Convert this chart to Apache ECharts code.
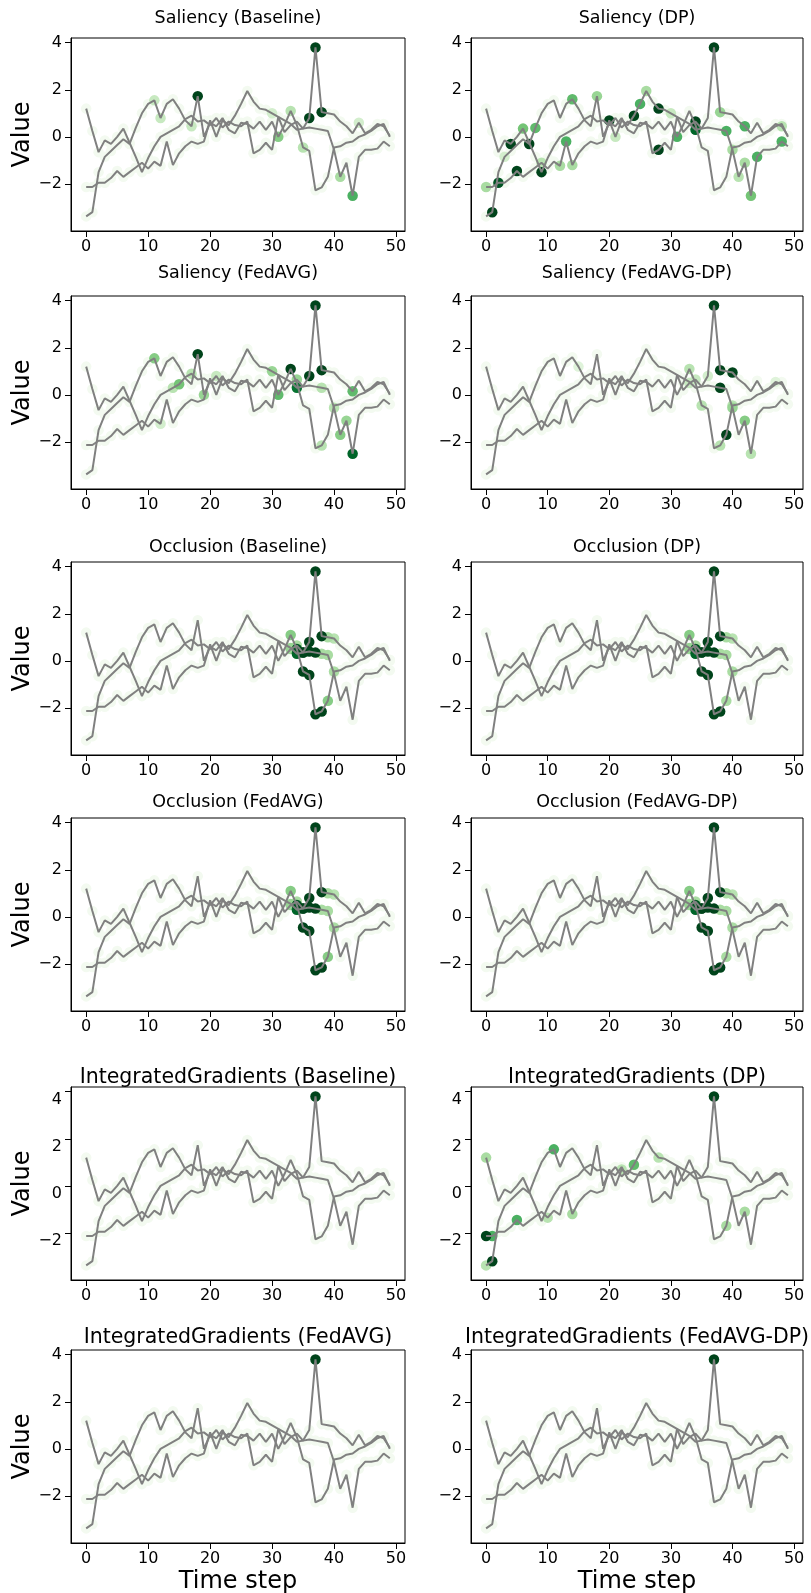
<!DOCTYPE html>
<html>
<head>
<meta charset="utf-8">
<script src="https://cdn.jsdelivr.net/npm/echarts@6/dist/echarts.min.js"></script>
<style>
  html, body { margin: 0; padding: 0; background: #fff; }
  #chart { width: 811px; height: 1593px; }
</style>
</head>
<body>
<div id="chart"></div>
<script>
// Three input time series (50 steps each)
const timeSteps = [0,1,2,3,4,5,6,7,8,9,10,11,12,13,14,15,16,17,18,19,20,21,22,23,24,25,26,27,28,29,30,31,32,33,34,35,36,37,38,39,40,41,42,43,44,45,46,47,48,49];
const seriesA = [1.2,0.25,-0.65,-0.15,-0.3,0.0,0.35,-0.25,-0.85,-1.5,
                 -0.9,-0.4,0.0,0.15,0.3,0.45,0.75,0.9,0.65,0.7,
                 0.5,0.8,0.4,0.65,0.5,0.45,0.65,-0.7,-0.55,-0.25,
                 -0.55,0.85,0.2,0.5,0.65,0.35,0.4,0.35,0.3,0.25,
                 -0.55,-1.7,-1.1,-2.5,-0.85,-0.55,-0.55,-0.5,-0.2,-0.4];
const seriesB = [-2.13,-2.13,-1.95,-1.95,-1.75,-1.45,-1.7,-1.5,-1.3,-1.1,
                 -1.35,-1.05,-1.23,-0.2,-1.2,-0.7,-0.4,-0.2,-0.3,-0.2,
                 0.7,0.0,0.7,0.5,0.9,1.4,1.95,1.5,1.2,1.15,
                 1.0,0.85,0.7,0.55,0.3,0.35,0.8,3.8,1.05,1.0,
                 0.95,0.65,0.45,0.15,0.6,0.15,0.3,0.55,0.45,0.05];
const seriesC = [-3.38,-3.2,-1.5,-0.85,-0.6,-0.35,-0.1,-0.3,0.38,1.0,
                 1.4,1.55,0.8,1.4,1.6,1.2,0.7,0.45,1.73,0.0,
                 0.6,0.45,0.8,0.3,0.15,0.6,0.55,0.35,0.65,0.3,
                 0.65,0.0,0.5,1.1,0.5,-0.45,-0.6,-2.27,-2.15,-1.7,
                 -0.45,-0.4,-0.25,-0.2,0.0,0.1,0.25,0.45,0.55,0.0];

const xTicks = [0,10,20,30,40,50];
const yTicks = [-2,0,2,4];

const panelTitles = [
  'Saliency (Baseline)', 'Saliency (DP)',
  'Saliency (FedAVG)', 'Saliency (FedAVG-DP)',
  'Occlusion (Baseline)', 'Occlusion (DP)',
  'Occlusion (FedAVG)', 'Occlusion (FedAVG-DP)',
  'IntegratedGradients (Baseline)', 'IntegratedGradients (DP)',
  'IntegratedGradients (FedAVG)', 'IntegratedGradients (FedAVG-DP)'
];

// Attribution highlights: [series index, time step, attribution level 0..1]
const attrSaliencyBaseline = [[1,37,1],[2,18,1],[1,36,1],[1,38,1],[0,43,0.6],[0,41,0.35],[2,33,0.3],[2,31,0.45],[2,35,0.3],[2,11,0.25],[2,12,0.25],[2,17,0.25],[1,44,0.2],[1,30,0.2]];
const attrSaliencyDP = [[2,1,1],[1,0,0.35],[1,2,0.95],[0,4,1],[1,5,1],[0,6,0.5],[2,7,1],[2,8,0.55],[0,9,1],[1,12,0.35],[1,13,0.6],[2,14,0.55],[1,14,0.35],[2,18,0.4],[1,20,1],[1,21,0.25],[1,24,1],[1,25,0.6],[1,26,0.35],[1,28,1],[0,28,1],[1,30,0.25],[2,31,0.6],[0,34,1],[1,34,0.9],[1,37,1],[1,38,0.4],[0,39,0.6],[0,40,0.35],[1,42,0.6],[0,42,0.35],[0,43,0.5],[0,44,0.6],[0,48,0.6],[1,48,0.3],[0,41,0.3],[2,3,0.2],[1,9,0.3]];
const attrSaliencyFedAVG = [[2,11,0.45],[2,18,1],[0,15,0.5],[0,14,0.3],[0,17,0.3],[2,19,0.4],[0,21,0.25],[1,12,0.2],[1,30,0.4],[2,31,0.55],[2,33,1],[0,34,0.4],[1,34,0.85],[1,36,1],[1,37,1],[1,38,1],[0,38,0.3],[2,38,0.3],[0,40,0.3],[0,41,0.45],[0,42,0.4],[0,43,0.9],[1,43,0.55]];
const attrSaliencyFedAVGDP = [[1,37,1],[1,38,1],[1,40,1],[0,38,1],[2,39,1],[2,40,0.3],[0,40,0.4],[0,42,0.45],[0,43,0.3],[2,38,0.3],[2,35,0.3],[2,33,0.3],[0,34,0.25],[0,33,0.25],[1,36,0.2],[2,15,0.15],[1,47,0.15]];
const attrOcclusionBaseline = [[1,37,1],[1,38,1],[1,36,1],[1,35,1],[0,35,1],[0,36,1],[0,37,1],[2,35,1],[2,36,1],[2,37,1],[2,38,1],[2,34,0.95],[1,34,0.9],[2,33,0.45],[0,33,0.4],[0,34,0.35],[1,33,0.4],[1,39,0.35],[0,39,0.35],[2,39,0.45],[2,40,0.35],[0,38,0.35],[1,40,0.3]];
const attrOcclusionDP = [[1,37,1],[1,38,1],[1,36,1],[1,35,1],[0,35,1],[0,36,1],[0,37,1],[2,35,1],[2,36,1],[2,37,1],[2,38,1],[2,34,0.95],[1,34,0.9],[2,33,0.45],[0,33,0.4],[0,34,0.35],[1,33,0.4],[1,39,0.35],[0,39,0.35],[2,39,0.35],[2,40,0.35],[0,38,0.35],[1,40,0.3]];
const attrOcclusionFedAVG = [[1,37,1],[1,38,1],[1,36,1],[1,35,1],[0,35,1],[0,36,1],[0,37,1],[2,35,1],[2,36,1],[2,37,1],[2,38,1],[2,34,0.95],[1,34,0.9],[2,33,0.45],[0,33,0.4],[0,34,0.35],[1,33,0.4],[1,39,0.35],[0,39,0.35],[2,39,0.45],[2,40,0.35],[0,38,0.35],[1,40,0.3]];
const attrOcclusionFedAVGDP = [[1,37,1],[1,38,1],[1,36,1],[1,35,1],[0,35,1],[0,36,1],[0,37,1],[2,35,1],[2,36,1],[2,37,1],[2,38,1],[2,34,0.95],[1,34,0.9],[2,33,0.45],[0,33,0.4],[0,34,0.35],[1,33,0.4],[1,39,0.35],[0,39,0.35],[2,39,0.35],[2,40,0.35],[0,38,0.35],[1,40,0.3]];
const attrIGBaseline = [[1,37,1]];
const attrIGDP = [[1,37,1],[0,0,0.35],[1,0,1],[1,1,0.6],[2,0,0.3],[2,1,1],[1,5,0.6],[2,11,0.6],[1,14,0.35],[1,10,0.3],[1,22,0.3],[1,24,0.55],[1,28,0.3],[2,39,0.35],[0,42,0.35]];
const attrIGFedAVG = [[1,37,1]];
const attrIGFedAVGDP = [[1,37,1]];

const panelAttrs = [
  attrSaliencyBaseline, attrSaliencyDP, attrSaliencyFedAVG, attrSaliencyFedAVGDP,
  attrOcclusionBaseline, attrOcclusionDP, attrOcclusionFedAVG, attrOcclusionFedAVGDP,
  attrIGBaseline, attrIGDP, attrIGFedAVG, attrIGFedAVGDP
];

// ---- layout ----
const FONT = 'DejaVu Sans';
const Y_MIN = -4.0, Y_MAX = 4.2;
const rowTops = [38, 296, 562, 818, 1087, 1350];
const plotH = 193;
const colLeft = [71, 471];
const colWidth = [334, 332];
const titleCenters = [18, 273, 547, 802, 1078, 1338];
const titleSizes = [17.5, 17.5, 17.5, 17.5, 20.5, 20.5];
const yLabelAlign = ['middle', 'middle', 'middle', 'middle', 'top', 'middle'];

// Greens colormap
const greenStops = ['#f7fcf5','#e5f5e0','#c7e9c0','#a1d99b','#74c476','#41ab5d','#238b45','#006d2c','#00441b'];
function hexToRgb(h) { return [1,3,5].map(i => parseInt(h.substr(i,2),16)); }
function greens(v) {
  v = Math.max(0, Math.min(1, v));
  const pos = v * (greenStops.length - 1);
  const i = Math.min(Math.floor(pos), greenStops.length - 2);
  const f = pos - i;
  const a = hexToRgb(greenStops[i]), b = hexToRgb(greenStops[i+1]);
  const c = a.map((x, k) => Math.round(x + (b[k] - x) * f));
  return 'rgb(' + c.join(',') + ')';
}

const lines = [seriesA, seriesB, seriesC];
const BG_LEVEL = 0.03;

const grid = [], xAxis = [], yAxis = [], series = [], graphic = [];
const minusFmt = v => String(v).replace('-', '\u2212');

for (let p = 0; p < 12; p++) {
  const r = Math.floor(p / 2), c = p % 2;
  grid.push({ left: colLeft[c], top: rowTops[r], width: colWidth[c], height: plotH,
              show: true, borderColor: '#000', borderWidth: 1, backgroundColor: 'transparent' });
  xAxis.push({
    type: 'value', gridIndex: p, min: -2.45, max: 51.45,
    splitLine: { show: false },
    axisLine: { show: true, onZero: false, lineStyle: { color: '#000', width: 1 } },
    axisTick: { show: true, length: 6, customValues: xTicks, lineStyle: { color: '#000' } },
    axisLabel: { customValues: xTicks, fontFamily: FONT, fontSize: 16, color: '#000', margin: 8 }
  });
  yAxis.push({
    type: 'value', gridIndex: p, min: Y_MIN, max: Y_MAX,
    splitLine: { show: false },
    axisLine: { show: true, onZero: false, lineStyle: { color: '#000', width: 1 } },
    axisTick: { show: true, length: 6, customValues: yTicks, lineStyle: { color: '#000' } },
    axisLabel: { customValues: yTicks, formatter: minusFmt, fontFamily: FONT, fontSize: 16,
                 color: '#000', margin: 9, verticalAlign: yLabelAlign[r] }
  });
  graphic.push({
    type: 'text', x: colLeft[c] + colWidth[c] / 2, y: titleCenters[r],
    style: { text: panelTitles[p], fontFamily: FONT, fontSize: titleSizes[r], fill: '#000',
             align: 'center', verticalAlign: 'middle' }
  });

  // attribution level for every point of every series
  const levels = lines.map(() => timeSteps.map(() => BG_LEVEL));
  panelAttrs[p].forEach(([s, t, lv]) => { levels[s][t] = lv; });
  const pts = [];
  lines.forEach((ln, s) => timeSteps.forEach((t, i) => pts.push([t, ln[i], levels[s][i]])));
  pts.sort((a, b) => a[2] - b[2]);
  series.push({
    type: 'scatter', xAxisIndex: p, yAxisIndex: p, z: 1, silent: true,
    symbolSize: 10.5,
    data: pts.map(d => ({ value: [d[0], d[1]], itemStyle: { color: greens(d[2]), opacity: 1 } }))
  });
  lines.forEach(ln => {
    series.push({
      type: 'line', xAxisIndex: p, yAxisIndex: p, z: 2, silent: true,
      showSymbol: false, symbol: 'none',
      data: timeSteps.map((t, i) => [t, ln[i]]),
      lineStyle: { color: '#808080', width: 2 }
    });
  });
}

// axis titles
rowTops.forEach(top => {
  graphic.push({ type: 'text', x: 23, y: top + plotH / 2, rotation: Math.PI / 2,
    style: { text: 'Value', fontFamily: FONT, fontSize: 24, fill: '#000', align: 'center', verticalAlign: 'middle' } });
});
[0, 1].forEach(c => {
  graphic.push({ type: 'text', x: colLeft[c] + colWidth[c] / 2, y: 1582,
    style: { text: 'Time step', fontFamily: FONT, fontSize: 24, fill: '#000', align: 'center', verticalAlign: 'middle' } });
});

const chart = echarts.init(document.getElementById('chart'), null, { renderer: 'canvas' });
chart.setOption({
  backgroundColor: '#fff',
  animation: false,
  grid, xAxis, yAxis, series, graphic
});
</script>
</body>
</html>
